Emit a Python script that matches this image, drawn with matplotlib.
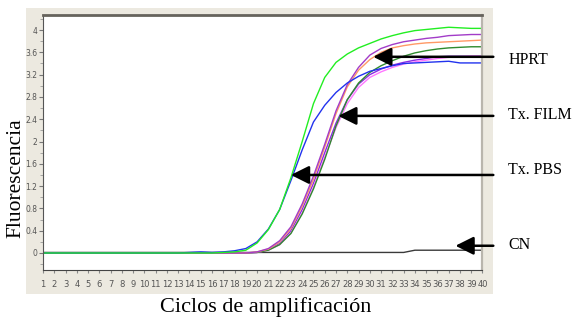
import numpy as np
import matplotlib
matplotlib.use('Agg')
import matplotlib.pyplot as plt
from matplotlib.patches import Rectangle
from matplotlib.ticker import MultipleLocator

# ciclos de PCR y fluorescencia de cada muestra
ciclos = np.arange(1, 41)

verde = [0]*16 + [0.01, 0.02, 0.05, 0.18, 0.42, 0.78, 1.35, 2.0, 2.68, 3.15,
                  3.42, 3.57, 3.68, 3.76, 3.84, 3.9, 3.95, 3.99, 4.01, 4.03,
                  4.05, 4.04, 4.03, 4.03]
azul = [0]*13 + [0.01, 0.02, 0.01, 0.02, 0.04, 0.08, 0.2, 0.43, 0.78, 1.3, 1.85,
                 2.35, 2.65, 2.88, 3.05, 3.17, 3.26, 3.31, 3.36, 3.4, 3.41,
                 3.42, 3.43, 3.44, 3.41, 3.41, 3.41]
morado = [0]*19 + [0.02, 0.08, 0.22, 0.47, 0.88, 1.38, 1.95, 2.55, 3.02, 3.33,
                   3.55, 3.67, 3.74, 3.79, 3.82, 3.85, 3.87, 3.9, 3.91, 3.92,
                   3.92]
naranja = [0]*19 + [0.02, 0.07, 0.2, 0.44, 0.84, 1.32, 1.9, 2.5, 2.98, 3.28,
                    3.47, 3.6, 3.68, 3.72, 3.75, 3.77, 3.78, 3.79, 3.8, 3.81,
                    3.82]
verde_osc = [0]*19 + [0.01, 0.05, 0.15, 0.35, 0.7, 1.15, 1.68, 2.28, 2.75, 3.05,
                      3.24, 3.36, 3.45, 3.53, 3.59, 3.63, 3.66, 3.68, 3.69, 3.7,
                      3.7]
violeta = [0]*19 + [0.01, 0.06, 0.17, 0.4, 0.78, 1.25, 1.8, 2.33, 2.75, 3.03,
                    3.2, 3.3, 3.37, 3.42, 3.46, 3.49, 3.52, 3.53, 3.53, 3.53,
                    3.53]
rosa = [0]*19 + [0.01, 0.05, 0.15, 0.36, 0.72, 1.18, 1.72, 2.25, 2.68, 2.97,
                 3.15, 3.25, 3.33, 3.39, 3.43, 3.46, 3.49, 3.51, 3.52, 3.53,
                 3.53]
cn = [0.01]*33 + [0.05]*7

series = [
    (cn, '#3a3a3a'),
    (violeta, '#8a2be2'),
    (rosa, '#ff77ff'),
    (verde_osc, '#2e8b2e'),
    (naranja, '#ff9966'),
    (morado, '#a23cc8'),
    (azul, '#2233ee'),
    (verde, '#22ee22'),
]

# etiquetas de la derecha: texto, punta de la flecha (ciclo, fluorescencia), altura del texto
etiquetas = ['HPRT', 'Tx. FILM', 'Tx. PBS', 'CN']
puntas = [(30.3, 3.52), (27.2, 2.46), (23.0, 1.40), (37.6, 0.13)]
alturas = [3.46, 2.48, 1.49, 0.14]

ytick_vals = [0, 0.4, 0.8, 1.2, 1.6, 2.0, 2.4, 2.8, 3.2, 3.6, 4.0]
ytick_txt = ['0', '0.4', '0.8', '1.2', '1.6', '2', '2.4', '2.8', '3.2', '3.6', '4']

fig = plt.figure(figsize=(5.74, 3.22), dpi=100)
fig.patches.append(Rectangle((26/574, 1-294/322), 467/574, 286/322,
                             transform=fig.transFigure, facecolor='#ece9e0',
                             edgecolor='none', zorder=-1))
ax = fig.add_axes([43/574, 1-270/322, 439.5/574, 255/322])
ax.set_zorder(1)
ax.set_facecolor('white')

for vals, col in series:
    ax.plot(ciclos, vals, color=col, lw=1.0)

ax.set_xlim(1, 40)
ax.set_ylim(-0.305, 4.27)

narrow = ['Liberation Sans Narrow', 'DejaVu Sans']
ax.set_xticks(ciclos)
ax.set_xticklabels([str(c) for c in ciclos], family=narrow, fontsize=6, color='#555555')
ax.set_yticks(ytick_vals)
ax.set_yticklabels(ytick_txt, family=narrow, fontsize=5.5, color='#555555')
ax.yaxis.set_minor_locator(MultipleLocator(0.2))
ax.tick_params(axis='x', length=2, pad=5, color='#888888')
ax.tick_params(axis='y', length=3, pad=1, color='#777777')
ax.tick_params(axis='y', which='minor', length=2, color='#999999')

ax.spines['top'].set_color('#66635c')
ax.spines['top'].set_linewidth(2)
ax.spines['left'].set_color('#555555')
ax.spines['bottom'].set_color('#444444')
ax.spines['right'].set_color('#b9b5ad')
ax.spines['right'].set_linewidth(1.6)

for txt, (px, py), ty in zip(etiquetas, puntas, alturas):
    ax.annotate('', xy=(px, py), xytext=(40.96, py), annotation_clip=False,
                arrowprops=dict(arrowstyle='-|>,head_length=1.1,head_width=0.55',
                                mutation_scale=10, lw=1.8, color='black',
                                shrinkA=0, shrinkB=0))
    ax.text(42.3, ty, txt, family='Liberation Serif', fontsize=11.5,
            va='center', ha='left', clip_on=False)

fig.text(16/574, 1-178/322, 'Fluorescencia', rotation=90, family='Liberation Serif',
         fontsize=15.5, ha='center', va='center')
fig.text(266/574, 1-307/322, 'Ciclos de amplificación', family='Liberation Serif',
         fontsize=16, ha='center', va='center')

fig.savefig('out.png', dpi=100)
